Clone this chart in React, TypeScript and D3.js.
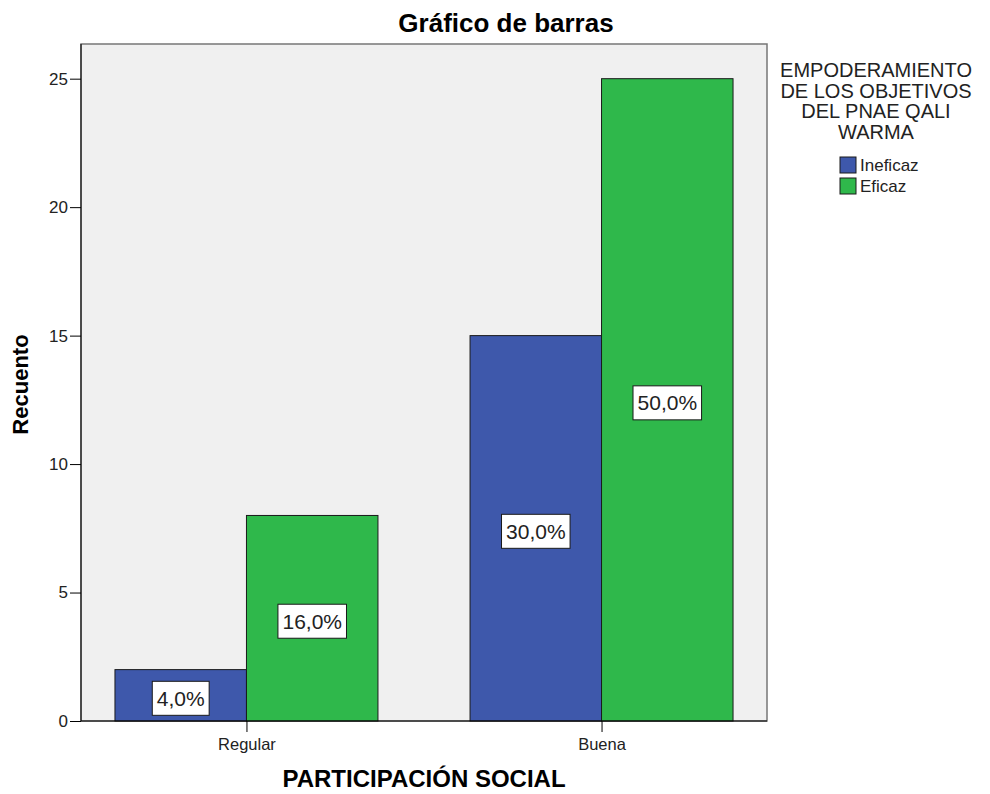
import { useEffect, useRef } from 'react';
import * as d3 from 'd3';

const categories = ['Regular', 'Buena'];
const seriesNames = ['Ineficaz', 'Eficaz'];
const ineficazCounts = [2, 15];
const eficazCounts = [8, 25];
const ineficazPct = ['4,0%', '30,0%'];
const eficazPct = ['16,0%', '50,0%'];
const yTicks = [0, 5, 10, 15, 20, 25];
const legendTitle = ['EMPODERAMIENTO', 'DE LOS OBJETIVOS', 'DEL PNAE QALI', 'WARMA'];

const colors = ['#3e58ab', '#2fb84b'];
const FONT = '"Liberation Sans", Arial, sans-serif';

export default function App() {
  const svgRef = useRef<SVGSVGElement>(null);

  useEffect(() => {
    if (!svgRef.current) return;
    const width = 990;
    const height = 794;
    const left = 81, right = 767, top = 44, bottom = 721;

    const svg = d3.select(svgRef.current);
    svg.selectAll('*').remove();
    svg.attr('width', width).attr('height', height).style('font-family', FONT);

    svg.append('rect').attr('width', width).attr('height', height).attr('fill', '#fff');

    const y = d3.scaleLinear().domain([0, 26.35]).range([bottom, top]);
    const x0 = d3.scalePoint<string>().domain(categories).range([left, right]).padding(0.466);
    const x1 = d3.scaleBand<string>().domain(seriesNames).range([-131.5, 131.5]);

    // plot background + frame
    svg.append('rect')
      .attr('x', left).attr('y', top)
      .attr('width', right - left).attr('height', bottom - top)
      .attr('fill', '#f0f0f0')
      .attr('stroke', '#777')
      .attr('stroke-width', 1.5);

    const rows = categories.map((c, i) => ({
      cat: c,
      vals: [
        { s: seriesNames[0], v: ineficazCounts[i], p: ineficazPct[i] },
        { s: seriesNames[1], v: eficazCounts[i], p: eficazPct[i] },
      ],
    }));

    const g = svg.selectAll('g.cat')
      .data(rows)
      .join('g')
      .attr('class', 'cat')
      .attr('transform', d => `translate(${x0(d.cat)},0)`);

    g.selectAll('rect')
      .data(d => d.vals)
      .join('rect')
      .attr('x', d => x1(d.s)!)
      .attr('y', d => y(d.v))
      .attr('width', x1.bandwidth())
      .attr('height', d => y(0) - y(d.v))
      .attr('fill', (d, i) => colors[i])
      .attr('stroke', '#1a1a1a')
      .attr('stroke-width', 1);

    // percentage labels
    const lab = g.selectAll('g.lab')
      .data(d => d.vals)
      .join('g')
      .attr('class', 'lab')
      .attr('transform', d => `translate(${x1(d.s)! + x1.bandwidth() / 2},${y(d.v / 2) + 3})`);

    lab.append('rect').attr('fill', '#fff').attr('stroke', '#1a1a1a').attr('stroke-width', 1);
    lab.append('text')
      .attr('text-anchor', 'middle')
      .attr('y', 7.5)
      .style('font-size', '21px')
      .attr('fill', '#222')
      .text(d => d.p);
    lab.each(function () {
      const t = d3.select(this).select<SVGTextElement>('text').node()!;
      const w = t.getComputedTextLength() + 9;
      d3.select(this).select('rect')
        .attr('x', -w / 2).attr('y', -17).attr('width', w).attr('height', 34);
    });

    // axes
    const yAxis = svg.append('g')
      .attr('transform', `translate(${left},0)`)
      .call(d3.axisLeft(y).tickValues(yTicks).tickSize(11).tickPadding(2));
    yAxis.select('.domain').attr('stroke', '#000').attr('d', `M0,${bottom}V${top}`);
    yAxis.selectAll('text').style('font-size', '17px').style('font-family', FONT).attr('fill', '#222');

    const xAxis = svg.append('g')
      .attr('transform', `translate(0,${bottom})`)
      .call(d3.axisBottom(x0).tickSize(11).tickPadding(6));
    xAxis.select('.domain').attr('stroke', '#000').attr('d', `M${left},0H${right}`);
    xAxis.selectAll('text').style('font-size', '16.5px').style('font-family', FONT).attr('fill', '#222');

    // titles
    svg.append('text')
      .attr('x', 506).attr('y', 32)
      .attr('text-anchor', 'middle')
      .style('font-size', '26px').style('font-weight', 'bold')
      .text('Gráfico de barras');

    svg.append('text')
      .attr('x', 424).attr('y', 787)
      .attr('text-anchor', 'middle')
      .style('font-size', '24px').style('font-weight', 'bold')
      .text('PARTICIPACIÓN SOCIAL');

    svg.append('text')
      .attr('transform', `translate(28,${(top + bottom) / 2 + 2}) rotate(-90)`)
      .attr('text-anchor', 'middle')
      .style('font-size', '22px').style('font-weight', 'bold')
      .text('Recuento');

    // legend
    const leg = svg.append('g');
    leg.selectAll('text.lt')
      .data(legendTitle)
      .join('text')
      .attr('class', 'lt')
      .attr('x', 876)
      .attr('y', (d, i) => 77 + i * 20.5)
      .attr('text-anchor', 'middle')
      .style('font-size', '20px')
      .attr('fill', '#222')
      .text(d => d);

    const items = leg.selectAll('g.li')
      .data(seriesNames)
      .join('g')
      .attr('class', 'li')
      .attr('transform', (d, i) => `translate(840,${157 + i * 21})`);
    items.append('rect')
      .attr('width', 16).attr('height', 16)
      .attr('fill', (d, i) => colors[i])
      .attr('stroke', '#1a1a1a');
    items.append('text')
      .attr('x', 20).attr('y', 14)
      .style('font-size', '17px')
      .attr('fill', '#222')
      .text(d => d);
  }, []);

  return (
    <svg ref={svgRef} style={{ position: 'absolute', left: 0, top: 0, display: 'block' }}></svg>
  );
}
